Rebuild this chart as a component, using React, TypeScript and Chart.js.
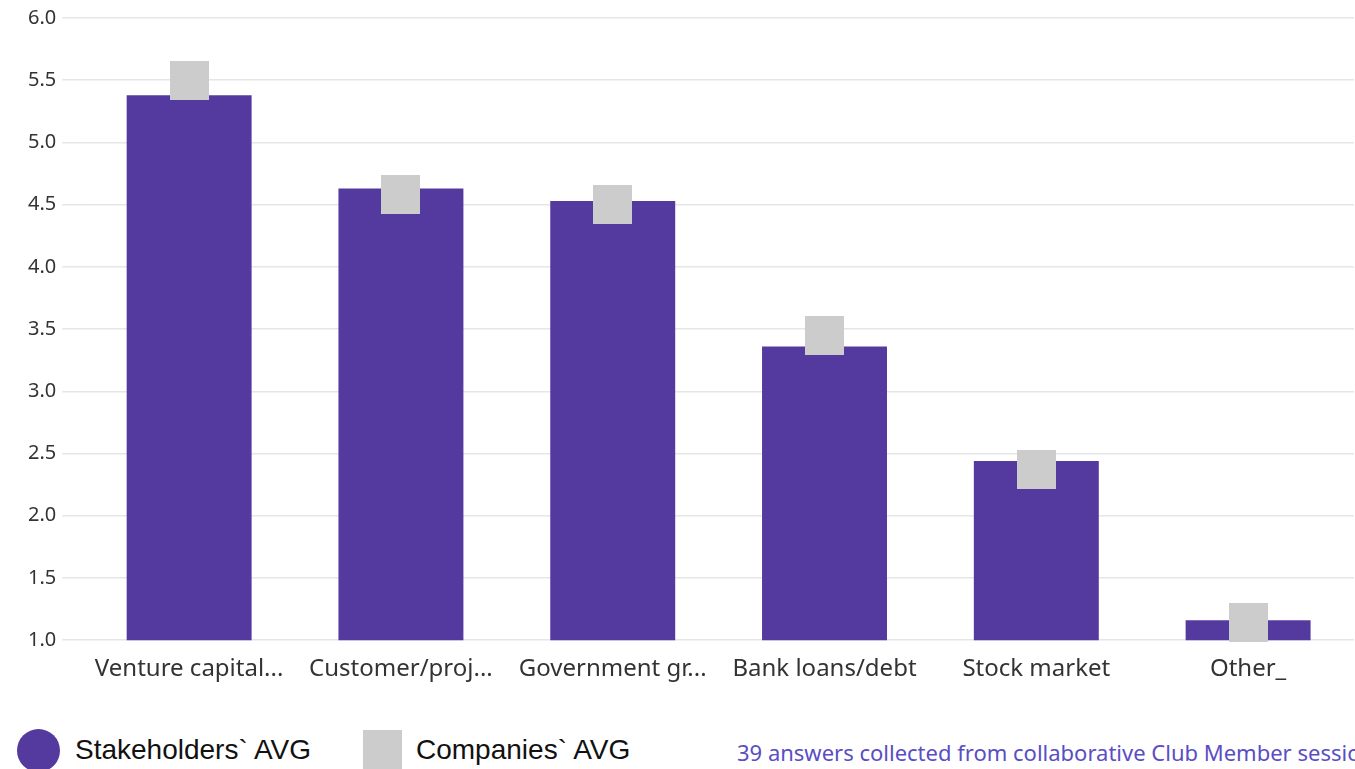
import React, { useEffect, useRef } from "react";
import { Chart, registerables } from "chart.js";

Chart.register(...registerables);

const categories = [
  "Venture capital...",
  "Customer/proj...",
  "Government gr...",
  "Bank loans/debt",
  "Stock market",
  "Other_",
];
const stakeholdersAvg = [5.38, 4.63, 4.53, 3.36, 2.44, 1.16];
const companiesAvg = [5.5, 4.58, 4.5, 3.45, 2.37, 1.14];
const yTicks = [1.0, 1.5, 2.0, 2.5, 3.0, 3.5, 4.0, 4.5, 5.0, 5.5, 6.0];
const seriesNames = ["Stakeholders` AVG", "Companies` AVG"];
const footnote = "39 answers collected from collaborative Club Member sessions";

const PURPLE = "#543a9f";
const GREY = "#cccccc";

function makeSquare(size: number, color: string) {
  const c = document.createElement("canvas");
  c.width = size;
  c.height = size;
  const g = c.getContext("2d")!;
  g.fillStyle = color;
  g.fillRect(0, 0, size, size);
  return c;
}

export default function App() {
  const ref = useRef<HTMLCanvasElement>(null);

  useEffect(() => {
    document.body.style.margin = "0";
    const ctx = ref.current!;
    const square = makeSquare(39, GREY);
    const chart = new Chart(ctx, {
      type: "bar",
      data: {
        labels: categories,
        datasets: [
          {
            type: "line",
            label: seriesNames[1],
            data: companiesAvg,
            showLine: false,
            pointStyle: square,
            pointRadius: 1,
            pointHoverRadius: 1,
            pointBackgroundColor: GREY,
            pointBorderWidth: 0,
            borderWidth: 0,
            backgroundColor: GREY,
            borderColor: GREY,
            order: 0,
            clip: false,
          } as any,
          {
            type: "bar",
            label: seriesNames[0],
            data: stakeholdersAvg,
            backgroundColor: PURPLE,
            barPercentage: 0.59,
            categoryPercentage: 1,
            order: 1,
          },
        ],
      },
      options: {
        responsive: false,
        animation: false,
        maintainAspectRatio: false,
        layout: { padding: { left: 22, right: 1, top: 6, bottom: 1 } },
        plugins: {
          legend: { display: false },
          tooltip: { enabled: false },
        },
        scales: {
          x: {
            grid: { display: false, drawTicks: false },
            border: { display: false },
            ticks: {
              padding: 15,
              color: "#333333",
              maxRotation: 0,
              autoSkip: false,
              font: { family: "'Noto Sans', sans-serif", size: 24 },
            },
          },
          y: {
            min: 1,
            max: 6,
            afterBuildTicks: (axis: any) => {
              axis.ticks = yTicks.map((v) => ({ value: v }));
            },
            grid: { color: "#e6e6e6", tickLength: 21, tickColor: "#e6e6e6", lineWidth: 1.5 },
            border: { display: false },
            ticks: {
              padding: 6,
              color: "#333333",
              font: { family: "'Noto Sans', sans-serif", size: 20 },
              callback: (v: any) => Number(v).toFixed(1),
            },
          },
        },
      },
    });
    return () => chart.destroy();
  }, []);

  return (
    <div
      style={{
        position: "absolute",
        left: 0,
        top: 0,
        width: 1355,
        height: 769,
        overflow: "hidden",
        background: "#ffffff",
      }}
    >
      <canvas ref={ref} width={1355} height={700} style={{ display: "block" }} />
      <div
        style={{
          position: "absolute",
          left: 17,
          top: 729,
          width: 43,
          height: 43,
          borderRadius: "50%",
          background: PURPLE,
        }}
      />
      <div
        style={{
          position: "absolute",
          left: 75,
          top: 734,
          fontFamily: "'Liberation Sans', Arial, sans-serif",
          fontSize: 28,
          lineHeight: "32px",
          color: "#111",
          whiteSpace: "nowrap",
        }}
      >
        {seriesNames[0]}
      </div>
      <div
        style={{
          position: "absolute",
          left: 363,
          top: 730,
          width: 39,
          height: 39,
          background: GREY,
        }}
      />
      <div
        style={{
          position: "absolute",
          left: 416,
          top: 734,
          fontFamily: "'Liberation Sans', Arial, sans-serif",
          fontSize: 28,
          lineHeight: "32px",
          color: "#111",
          whiteSpace: "nowrap",
        }}
      >
        {seriesNames[1]}
      </div>
      <div
        style={{
          position: "absolute",
          left: 737,
          top: 737,
          fontFamily: "'Noto Sans', sans-serif",
          fontSize: 22,
          lineHeight: "30px",
          color: "#5a4ec4",
          whiteSpace: "nowrap",
        }}
      >
        {footnote}
      </div>
    </div>
  );
}
